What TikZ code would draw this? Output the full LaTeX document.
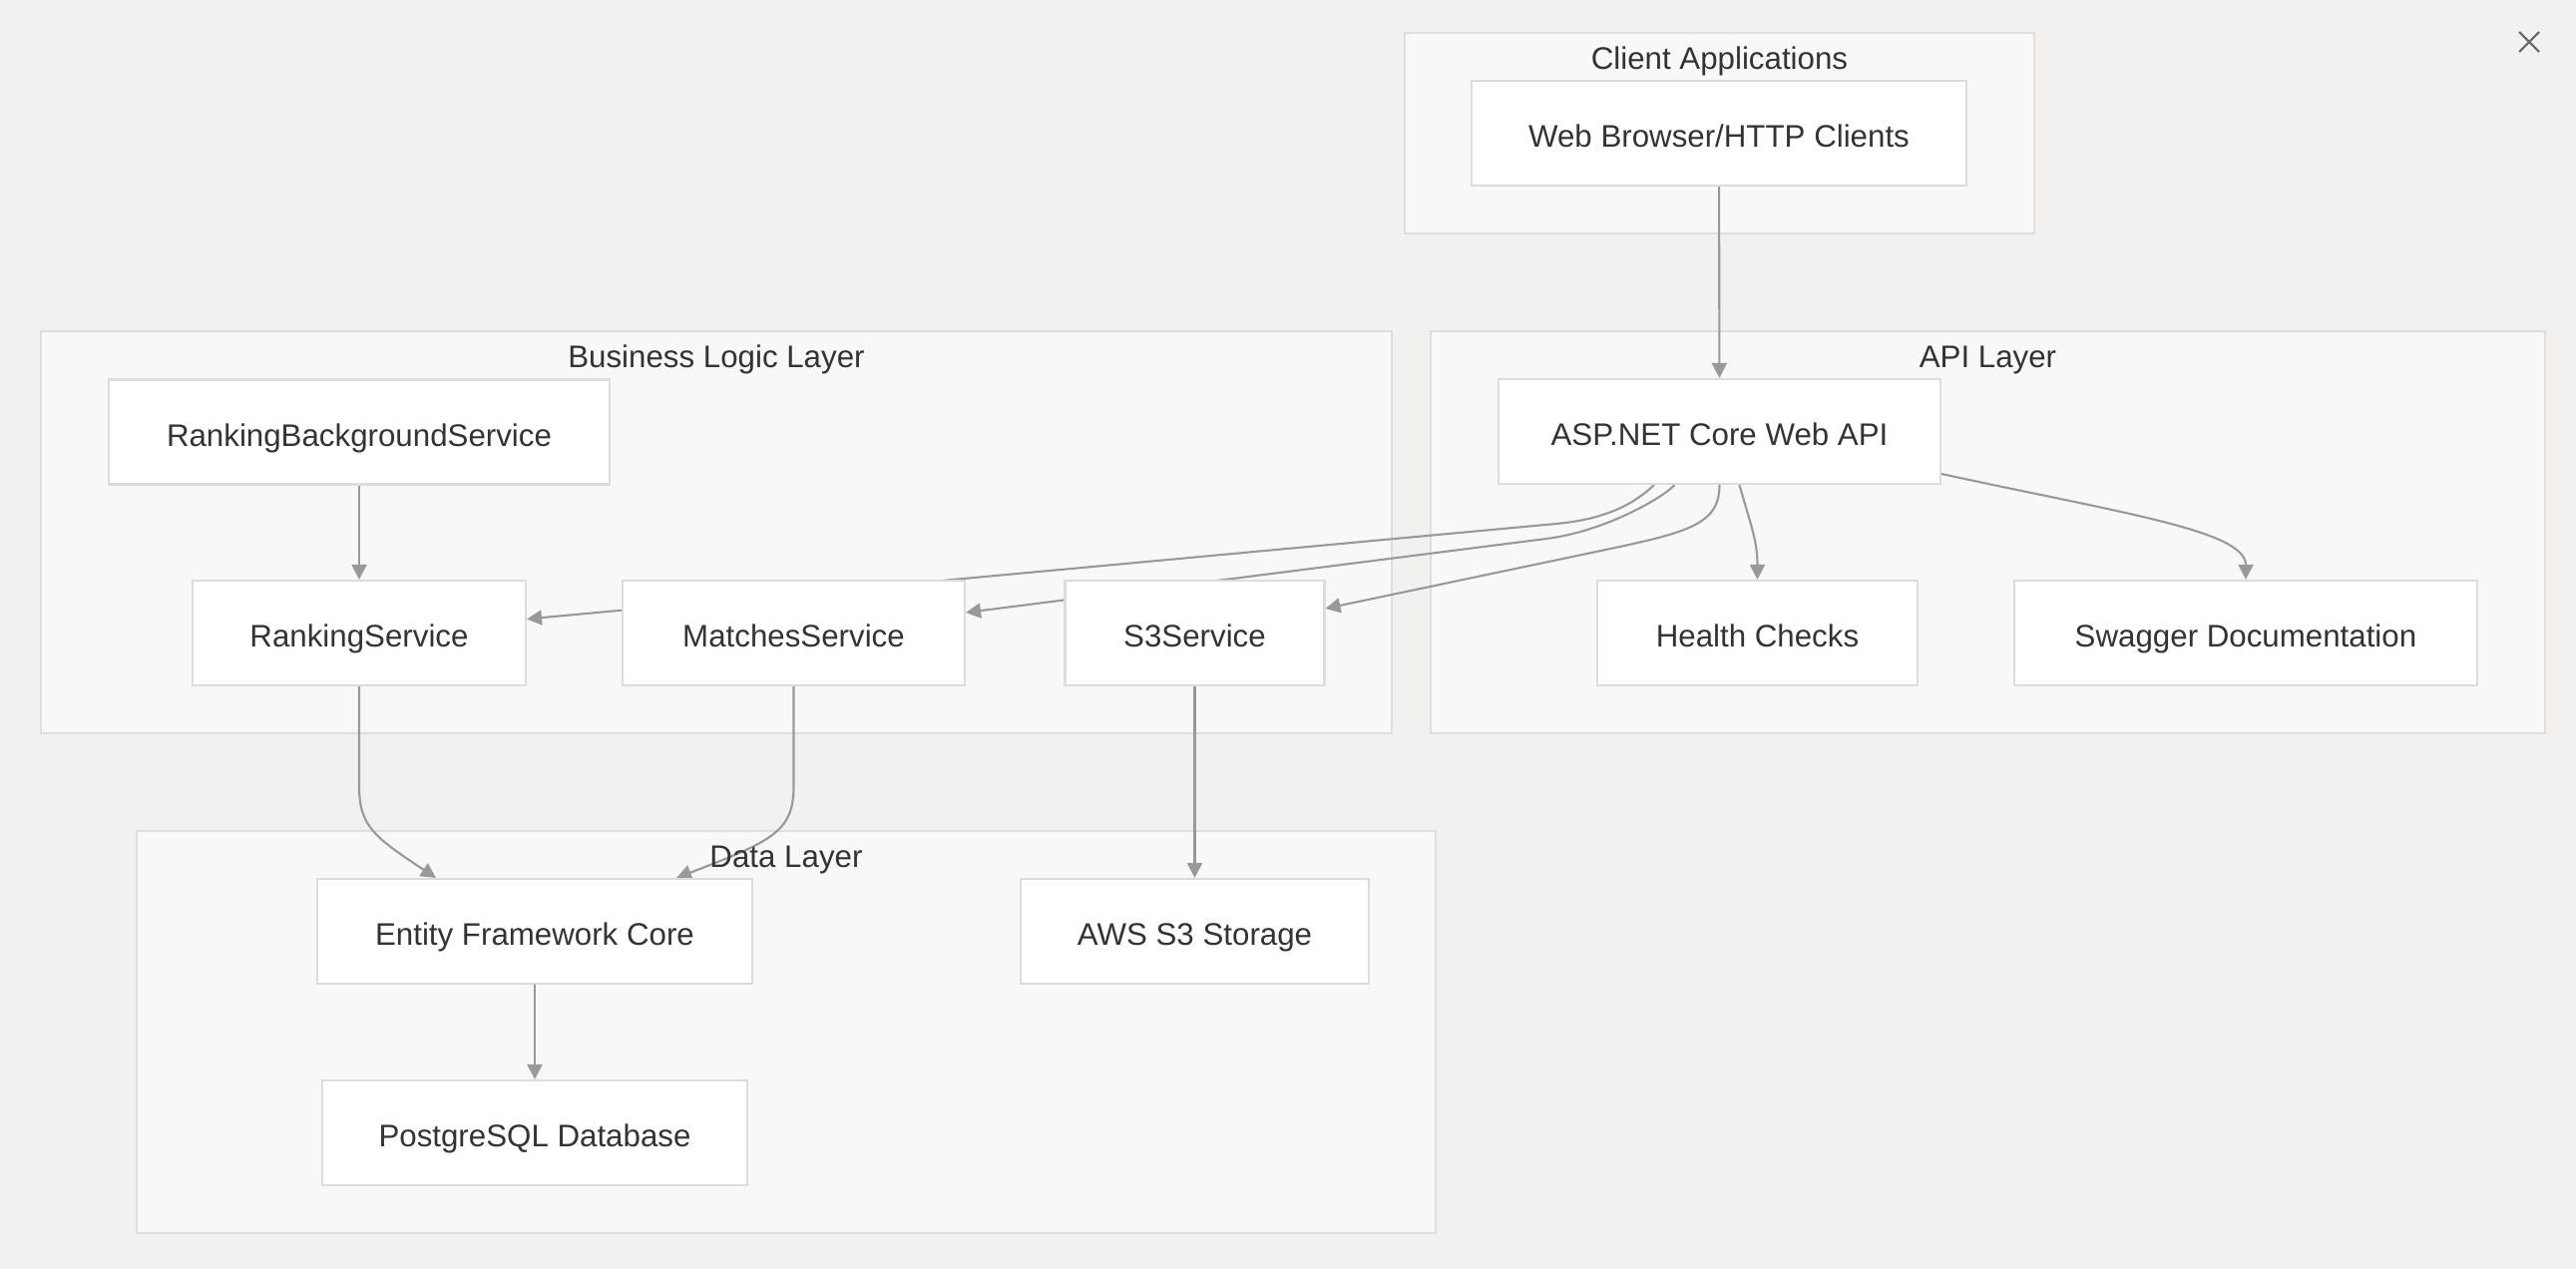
\documentclass[tikz,border=0pt]{standalone}
\usepackage{fontspec}
\setmainfont{Liberation Sans}
\usetikzlibrary{arrows.meta}
\definecolor{canvas}{RGB}{242,241,240}
\definecolor{groupfill}{RGB}{248,248,248}
\definecolor{groupline}{RGB}{222,222,222}
\definecolor{boxline}{RGB}{220,220,220}
\definecolor{arrowgray}{RGB}{153,153,153}
\definecolor{ink}{RGB}{51,51,51}
\newcommand{\diagfont}{\fontsize{8.9}{10.7}\selectfont}
\tikzstyle{box}=[draw=boxline, fill=white, line width=0.6pt, minimum height=1.05cm, inner sep=0pt, text height=1.0em, text depth=0.18em, text=ink, font=\diagfont]
\tikzstyle{layerbox}=[draw=groupline, fill=groupfill, line width=0.6pt]
\tikzstyle{layertitle}=[inner sep=0pt, text height=1.0em, text depth=0.18em, text=ink, font=\diagfont]
\tikzstyle{link}=[-{Triangle[length=1.5mm,width=1.5mm]}, line width=0.6pt, color=arrowgray]
\pgfdeclarelayer{background}
\pgfdeclarelayer{edges}
\pgfsetlayers{background,edges,main}

\begin{document}
\begin{tikzpicture}
  \begin{pgfonlayer}{background}
    \fill[canvas] (0,0) rectangle (25.82,12.72);
    \draw[layerbox] (14.08,12.39) rectangle (20.39,10.38);
    \draw[layerbox] (0.41,9.40) rectangle (13.95,5.37);
    \draw[layerbox] (14.34,9.40) rectangle (25.51,5.37);
    \draw[layerbox] (1.37,4.39) rectangle (14.39,0.36);
  \end{pgfonlayer}

  %% Layer titles
  \draw (17.235,12.17) node[layertitle] (TC) {Client Applications};
  \draw (7.18,9.175) node[layertitle] (TB) {Business Logic Layer};
  \draw (19.925,9.175) node[layertitle] (TA) {API Layer};
  \draw (7.88,4.165) node[layertitle] (TD) {Data Layer};

  %% Clients
  \draw (17.23,11.385) node[box, minimum width=4.96cm] (C1) {Web Browser/HTTP Clients};

  %% API layer
  \draw (17.235,8.395) node[box, minimum width=4.43cm] (A1) {ASP.NET Core Web API};
  \draw (17.615,6.375) node[box, minimum width=3.21cm] (A2) {Health Checks};
  \draw (22.51,6.375) node[box, minimum width=4.64cm] (A3) {Swagger Documentation};

  %% Business logic layer
  \draw (3.60,8.39) node[box, minimum width=5.02cm] (B1) {RankingBackgroundService};
  \draw (3.60,6.375) node[box, minimum width=3.34cm] (B2) {RankingService};
  \draw (7.955,6.375) node[box, minimum width=3.43cm] (B3) {MatchesService};
  \draw (11.975,6.375) node[box, minimum width=2.60cm] (B4) {S3Service};

  %% Data layer
  \draw (5.36,3.385) node[box, minimum width=4.36cm] (D1) {Entity Framework Core};
  \draw (11.975,3.385) node[box, minimum width=3.49cm] (D2) {AWS S3 Storage};
  \draw (5.36,1.365) node[box, minimum width=4.26cm] (D3) {PostgreSQL Database};

  \begin{pgfonlayer}{edges}
    \draw[link] (C1) -- (A1);
    \draw[link] ([xshift=-6.55mm]A1.south) .. controls (16.45,7.74) and (16.2,7.525) .. (15.60,7.47) -- ([yshift=1.4mm]B2.east);
    \draw[link] ([xshift=-4.5mm]A1.south) .. controls (16.68,7.74) and (16.1,7.396) .. (15.50,7.32) -- ([yshift=2.05mm]B3.east);
    \draw[link] (A1.south) .. controls (17.235,7.45) and (16.9,7.38) .. (16.0,7.19) -- ([yshift=2.45mm]B4.east);
    \draw[link] ([xshift=2mm]A1.south) .. controls (17.55,7.45) and (17.615,7.3) .. (A2.north);
    \draw[link] ([yshift=-4.25mm]A1.east) .. controls (21.3,7.57) and (22.51,7.4) .. (A3.north);

    \draw[link] (B1) -- (B2);
    \draw[link] (B2.south) -- ++(0,-1.0) .. controls +(0,-0.4) and +(-0.62,0.41) .. ([xshift=-9.9mm]D1.north);
    \draw[link] (B3.south) -- ++(0,-1.0) .. controls +(0,-0.45) and +(0.97,0.37) .. ([xshift=14.2mm]D1.north);
    \draw[link] (B4) -- (D2);
    \draw[link] (D1) -- (D3);
  \end{pgfonlayer}

  %% Close mark
  \draw[line width=0.6pt, color=ink!75] (25.25,12.40) -- (25.45,12.20);
  \draw[line width=0.6pt, color=ink!75] (25.25,12.20) -- (25.45,12.40);
\end{tikzpicture}
\end{document}
